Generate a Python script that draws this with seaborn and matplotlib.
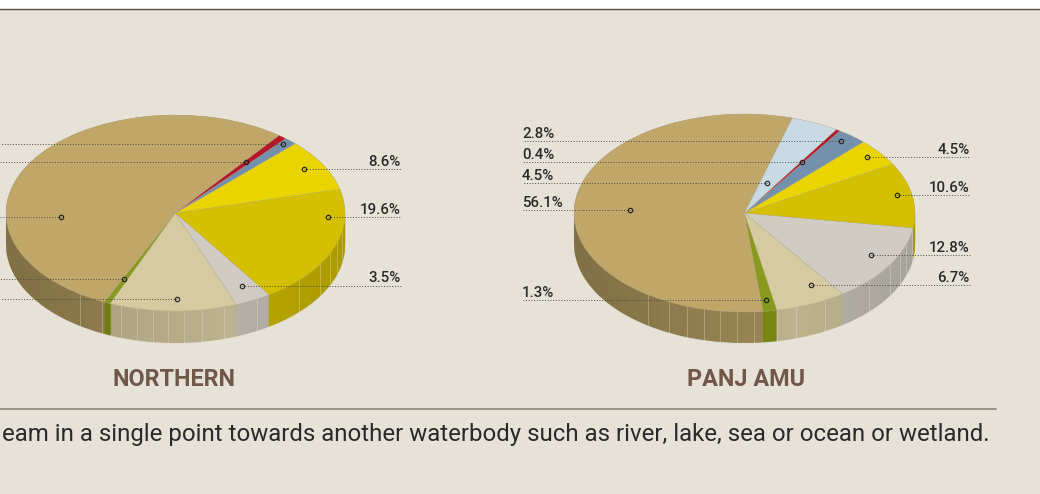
import numpy as np
import matplotlib
matplotlib.use("Agg")
import matplotlib.pyplot as plt
import seaborn as sns

# ---------- data ----------
categories_n = ["brown", "green", "cream", "grey", "dark yellow", "yellow", "blue", "red"]
values_n = [53.6, 0.6, 12.1, 3.5, 19.6, 8.6, 1.2, 0.8]
categories_p = ["brown", "green", "cream", "grey", "dark yellow", "yellow", "blue", "red", "pale blue"]
values_p = [56.1, 1.3, 6.7, 12.8, 10.6, 4.5, 2.8, 0.4, 4.5]
title_n = "NORTHERN"
title_p = "PANJ AMU"
caption = "eam in a single point towards another waterbody such as river, lake, sea or ocean or wetland."

top_colors = {"brown": "#c0a769", "green": "#879a1b", "cream": "#d6caa0", "grey": "#d0cbc3",
              "dark yellow": "#d4c000", "yellow": "#ead400", "blue": "#7391ad", "red": "#b5182b",
              "pale blue": "#c8dae4"}
side_colors = {"brown": "#9c8854", "green": "#7a8812", "cream": "#bdb38e", "grey": "#b6b2a9",
               "dark yellow": "#bca900", "yellow": "#bca900", "blue": "#5f7a92", "red": "#94121f",
               "pale blue": "#a8b8c0"}

BG = "#e6e2d8"
INK = "#2b2a2a"
W, H = 1040, 494

sns.set_theme(style="white")
plt.rcParams["font.family"] = ["Roboto", "DejaVu Sans"]

fig = plt.figure(figsize=(W / 100, H / 100), dpi=100, facecolor="white")
bg_ax = fig.add_axes([0, 0, 1, 1], zorder=0)
bg_ax.set_xlim(0, W); bg_ax.set_ylim(H, 0); bg_ax.axis("off")
bg_ax.axhspan(9.5, H, color=BG, lw=0)
bg_ax.axhline(9.5, color="#5a4d45", lw=1.0)
bg_ax.plot([0, 996], [409, 409], color="#8c8272", lw=1.2)


def pie3d(cx, cy, rx, ry, depth, cats, vals, start, ribs, zorder):
    ax = fig.add_axes([(cx - rx) / W, 1 - (cy + ry) / H, 2 * rx / W, 2 * ry / H], zorder=zorder)
    d = depth / ry
    side = sns.color_palette([side_colors[c] for c in cats])
    top = sns.color_palette([top_colors[c] for c in cats])
    for off in np.linspace(d, 0, int(depth) + 1):
        ax.pie(vals, colors=side, startangle=start, center=(0, -off), radius=1,
               wedgeprops={"linewidth": 0, "zorder": 1})
    ax.pie(vals, colors=top, startangle=start, center=(0, 0), radius=1,
           wedgeprops={"linewidth": 0.25, "edgecolor": "#b9ad8c", "zorder": 4})
    ax.set_aspect("auto")
    ax.set_xlim(-1, 1); ax.set_ylim(-1, 1); ax.axis("off")
    # wall shading, darkest at the left end
    xs = np.linspace(-1, 1, int(2 * rx) + 1)
    rim = -np.sqrt(1 - xs ** 2)
    shade = np.clip(np.abs(xs - 0.3) / 1.3, 0, 1) * 0.16
    for x, r, s in zip(xs, rim, shade):
        ax.plot([x, x], [r, r - d], color="black", alpha=s, lw=0.75, zorder=2,
                solid_capstyle="butt", clip_on=False)
    # vertical seams on the wall
    for px in ribs:
        x = (px - cx) / rx
        r = -np.sqrt(1 - x ** 2)
        ax.plot([x, x], [r, r - d], color="#f0ecdc", alpha=0.3, lw=0.7, zorder=3, clip_on=False)
    return ax


ribs_n = [80, 102, 121, 137, 153, 168, 184, 202, 224, 257, 299, 320, 330, 337, 342]
ribs_p = [648, 669, 687, 704, 720, 737, 754, 777, 796, 825, 869, 890, 900, 906, 912]
pie3d(175.5, 213, 169.5, 98, 32, categories_n, values_n, 52.3, ribs_n, 1)
pie3d(744.5, 213, 170.5, 99, 31, categories_p, values_p, 73.7, ribs_p, 2)

ov = fig.add_axes([0, 0, 1, 1], zorder=5)
ov.set_xlim(0, W); ov.set_ylim(H, 0); ov.axis("off"); ov.patch.set_alpha(0)


def leader(mx, y, end, label=None):
    ov.plot([mx, end], [y, y], color="#4a4842", lw=0.7, ls=(0, (1, 1.8)), zorder=1)
    ov.plot([mx], [y], "o", ms=3.2, mfc="none", mec="#1e1e1e", mew=0.8, zorder=2)
    if label is not None:
        if end > mx:
            ov.text(end - 0.5, y - 3.5, label, ha="right", va="baseline", fontsize=10.8,
                    fontweight="medium", color=INK)
        else:
            ov.text(end - 0.5, y - 3.5, label, ha="left", va="baseline", fontsize=10.8,
                    fontweight="medium", color=INK)


# Northern: leaders on the left run off the canvas
for mx, y in [(283, 144.5), (245.5, 162.5), (61, 217.3), (124.3, 279.3), (177.3, 298.5)]:
    leader(mx, y, 0)
leader(304.3, 169.3, 401, f"{values_n[5]}%")
leader(328.3, 217.3, 401, f"{values_n[4]}%")
leader(241.7, 285.7, 401, f"{values_n[3]}%")

# Panj Amu
leader(841, 141.3, 522.5, f"{values_p[6]}%")
leader(801.7, 162.3, 522.5, f"{values_p[7]}%")
leader(767, 183.5, 522.5, f"{values_p[8]}%")
leader(630.3, 210, 522.5, f"{values_p[0]}%")
leader(766.3, 300.2, 522.5, f"{values_p[1]}%")
leader(866.7, 157, 970, f"{values_p[5]}%")
leader(897.3, 195.3, 970, f"{values_p[4]}%")
leader(870.7, 255.3, 970, f"{values_p[3]}%")
leader(810.7, 285, 970, f"{values_p[2]}%")

for x, t in [(174.5, title_n), (746.5, title_p)]:
    ov.text(x, 386, t, ha="center", va="baseline", fontsize=16.8, fontweight="bold", color="#70574a")
ov.text(990, 441, caption, ha="right", va="baseline", fontsize=17.25, color=INK)

fig.savefig("out.png", dpi=100, facecolor="white")
